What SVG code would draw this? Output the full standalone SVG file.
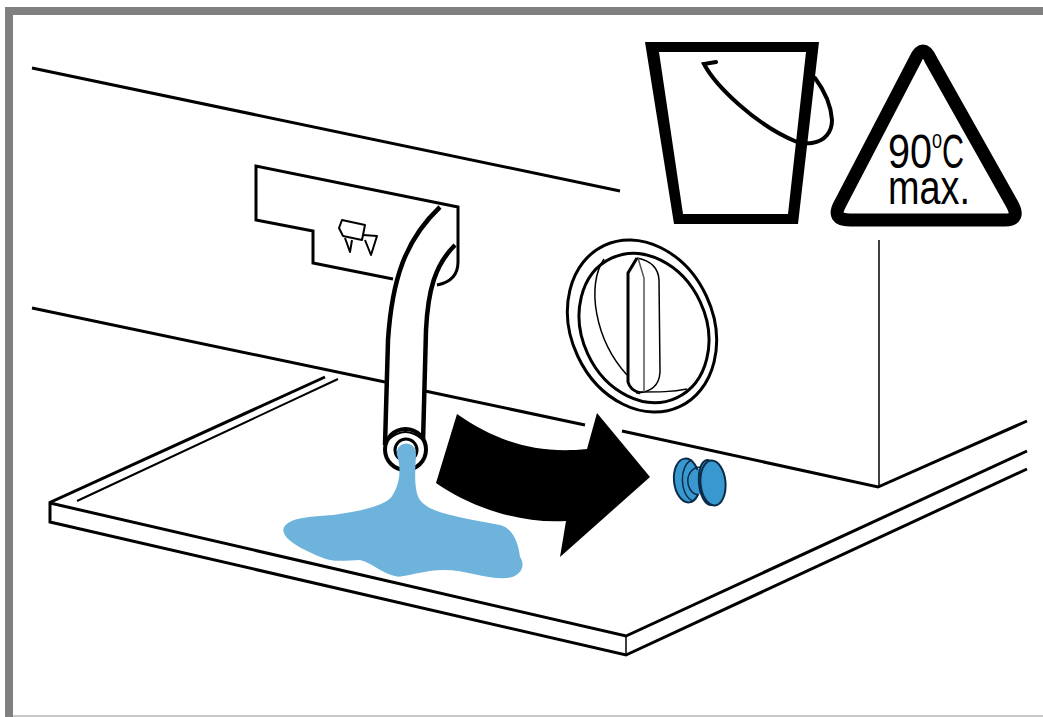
<svg xmlns="http://www.w3.org/2000/svg" width="1043" height="717" viewBox="0 0 1043 717">
<style>
.l{fill:none;stroke:#000;stroke-width:3;stroke-linecap:butt;stroke-linejoin:miter}
.m{fill:none;stroke:#000;stroke-width:2;stroke-linejoin:round}
.s{fill:none;stroke:#000;stroke-width:1.5}
.g{fill:none;stroke:#555;stroke-width:1.5}
.h{fill:none;stroke:#000;stroke-width:4.500}
.t{font-family:"Liberation Sans",Arial,sans-serif;font-size:48px;fill:#000}
.p{fill:#3a98d0;stroke:#0b2c48;stroke-width:2}
.p2{fill:none;stroke:#0b2c48;stroke-width:1.500}
</style>
<rect width="1043" height="717" fill="#fff"/>
<g id="frame">
<rect x="5" y="7" width="1038" height="8" fill="#808080"/>
<rect x="5" y="7" width="8" height="710" fill="#808080"/>
<rect x="13" y="715" width="1030" height="2" fill="#c8c8c8"/>
</g>
<g id="appliance">
<path class="l" d="M32 68L620 191"/>
<path class="l" d="M32 308L385 382"/>
<path class="l" d="M425 391L585 425"/>
<path class="l" d="M622 431L878 487L1027 421"/>
<path class="s" d="M879 240V487" stroke="#333"/>
</g>
<g id="platform">
<path class="l" d="M325 377L50 502.500V522L626 655L1027 469"/>
<path class="l" d="M50 503L626 636L1027 451"/>
<path class="s" d="M626 636V655"/>
<path class="m" d="M338 379L77 501"/>
</g>
<g id="drawer">
<path class="l" d="M393 279L313 263V231L256 220V166L458 207V262Q458 281 437 285"/>
<path class="m" d="M342 220L365 225L362 240L343 236L339 228Z"/>
<path class="m" d="M345 238L350 252L352 240M363 235L377 236L371 255L365 240"/>
</g>
<g id="hose">
<path fill="#fff" d="M440 207L455 209L455 245Q432 265 428 320L423 440H385L387 337Q388 250 440 207Z"/>
<path class="h" d="M440 207C405 240 392 280 388 340L385 445"/>
<path class="h" d="M455 245C435 265 428 290 426 330L423 442"/>
<circle cx="405.500" cy="449.500" r="20.500" fill="#fff" stroke="#000" stroke-width="4"/>
<path class="m" d="M388 440Q405.500 424 423 440"/>
<circle cx="406" cy="450" r="11" fill="#fff" stroke="#000" stroke-width="3"/>
</g>
<g id="water">
<path transform="translate(270 400) scale(.3333)" fill="#6db3db" d="M380 162C380 120 438 120 438 162C436 210 430 270 450 300C480 340 560 350 690 375C730 385 745 430 750 470C770 500 750 535 700 535C640 535 590 510 520 510C470 510 430 525 385 530C340 525 310 490 270 480C230 480 190 490 150 470C100 450 40 420 40 390C45 355 110 350 190 345C260 335 340 320 365 290C385 260 398 215 380 162Z"/>
</g>
<g id="arrow">
<path fill="#000" d="M457 414C490 437 530 455 587 449L597 413L650 477L560 557L566 521C520 524 470 507 436 483Z"/>
</g>
<g id="plug">
<ellipse class="p" cx="687" cy="480.500" rx="13" ry="22" transform="rotate(-6 687 480.500)"/>
<path class="p2" d="M692 460C679 464 679 496 693 501"/>
<path class="p2" d="M700 467C684 468 684 492 698 495"/>
<path fill="#3a98d0" d="M700 468C692 472 692 490 698 494L705 494V468Z"/>
<ellipse class="p" cx="709" cy="482.500" rx="10" ry="22.500" transform="rotate(-5 709 482.500)"/>
<ellipse class="p" cx="713" cy="483" rx="12.500" ry="22.500" transform="rotate(-5 713 483)" stroke-width="1.500"/>
</g>
<g id="knob">
<ellipse cx="642" cy="326" rx="71" ry="89" fill="#fff" stroke="#000" stroke-width="3" transform="rotate(-25 642 326)"/>
<ellipse cx="644" cy="328" rx="62" ry="77" fill="#fff" stroke="#000" stroke-width="3" transform="rotate(-25 644 328)"/>
<path class="s" d="M604 259C586 285 595 340 627 375"/>
<path class="s" d="M636 392C660 392 672 392 687 389"/>
<path fill="#fff" class="s" d="M637 258Q658 262 659 280L660 372Q659 392 636 393"/>
<path class="g" d="M638 258L644 278V392"/>
<path class="l" d="M637 258L628 273V382Q630 390 640 393"/>
</g>
<g id="bucket">
<path fill="#000" fill-rule="evenodd" d="M645 42H819L798 224H674ZM659 52L683 214H788L806 52Z"/>
<path fill="none" stroke="#000" stroke-width="4" stroke-linecap="round" d="M716 62L704 64C715 85 755 125 797 142Q806 144 812 143C825 141 832 132 832 120C831 105 824 90 815 78"/>
</g>
<g id="warning">
<path fill="#fff" stroke="#000" stroke-width="13" stroke-linejoin="round" d="M915 60Q923 42 931 60L1012 204Q1021 220 1005 220H850Q831 220 840 204Z"/>
<text class="t" x="888" y="168"><tspan textLength="44" lengthAdjust="spacingAndGlyphs">90</tspan></text>
<text class="t" x="932" y="148" style="font-size:21px"><tspan textLength="10" lengthAdjust="spacingAndGlyphs">0</tspan></text>
<text class="t" x="942" y="168"><tspan textLength="22" lengthAdjust="spacingAndGlyphs">C</tspan></text>
<text class="t" x="888" y="204"><tspan textLength="82" lengthAdjust="spacingAndGlyphs">max.</tspan></text>
</g>
</svg>
